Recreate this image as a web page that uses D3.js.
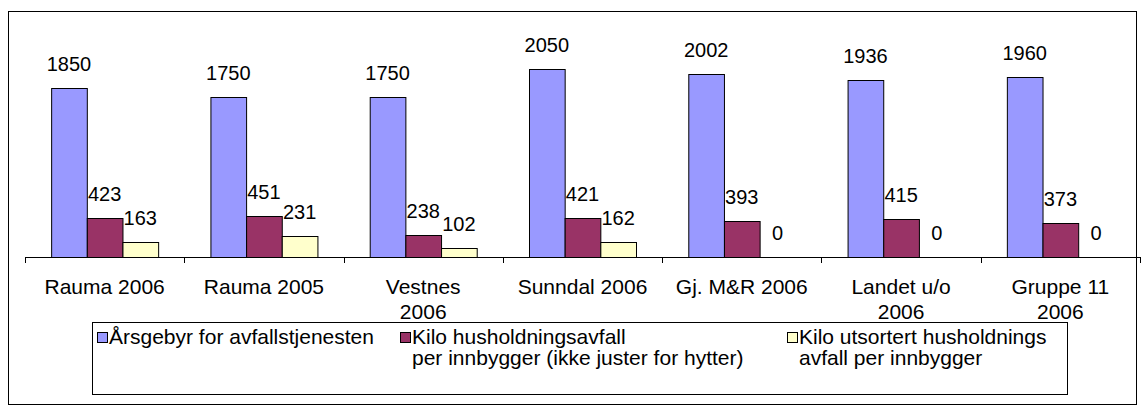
<!DOCTYPE html>
<html>
<head>
<meta charset="utf-8">
<script src="https://cdn.jsdelivr.net/npm/d3@7"></script>
<style>
  body { margin: 0; background: #fff; }
  text { font-family: "Liberation Sans", Arial, sans-serif; fill: #000; }
</style>
</head>
<body>
<script>
const categories = [
  ['Rauma 2006'],
  ['Rauma 2005'],
  ['Vestnes', '2006'],
  ['Sunndal 2006'],
  ['Gj. M&R 2006'],
  ['Landet u/o', '2006'],
  ['Gruppe 11', '2006']
];
const seriesNames = [
  ['Årsgebyr for avfallstjenesten'],
  ['Kilo husholdningsavfall', 'per innbygger (ikke juster for hytter)'],
  ['Kilo utsortert husholdnings', 'avfall per innbygger']
];
const gebyr = [1850, 1750, 1750, 2050, 2002, 1936, 1960];
const kiloAvfall = [423, 451, 238, 421, 393, 415, 373];
const kiloUtsortert = [163, 231, 102, 162, 0, 0, 0];
const colors = ['#9999ff', '#993366', '#ffffcc'];

const width = 1144, height = 412;
const series = [gebyr, kiloAvfall, kiloUtsortert];

const svg = d3.select('body').append('svg')
  .attr('width', width)
  .attr('height', height);

// outer frame
svg.append('rect')
  .attr('x', 8.5).attr('y', 11.5)
  .attr('width', 1128).attr('height', 393)
  .attr('fill', 'none').attr('stroke', '#000');

const catKeys = categories.map((c, i) => i);
const x = d3.scaleBand().domain(catKeys).range([25, 1140]);
const groupW = 107;
const xSub = d3.scaleBand().domain([0, 1, 2]).range([0, groupW]);
const y = d3.scaleLinear().domain([0, 2500]).range([257, 28]);

const groups = svg.append('g').selectAll('g')
  .data(catKeys)
  .join('g')
  .attr('transform', i => 'translate(' + (x(i) + (x.bandwidth() - groupW) / 2) + ',0)');

groups.selectAll('rect')
  .data(i => series.map((s, k) => ({ k: k, v: s[i] })))
  .join('rect')
  .filter(d => d.v > 0)
  .attr('x', d => xSub(d.k) + 0.5)
  .attr('y', d => Math.round(y(d.v)) + 0.5)
  .attr('width', xSub.bandwidth())
  .attr('height', d => Math.round(y(0)) - Math.round(y(d.v)))
  .attr('fill', d => colors[d.k])
  .attr('stroke', '#000');

// value labels
groups.selectAll('text.val')
  .data(i => series.map((s, k) => ({ k: k, v: s[i] })))
  .join('text')
  .attr('class', 'val')
  .attr('x', d => xSub(d.k) + xSub.bandwidth() / 2)
  .attr('y', d => y(d.v) - 17)
  .attr('text-anchor', 'middle')
  .style('font-size', '20px')
  .text(d => d.v);

// category axis
const axis = svg.append('g').attr('transform', 'translate(0,257)');
axis.append('line')
  .attr('x1', 25).attr('x2', 1140)
  .attr('y1', 0.5).attr('y2', 0.5)
  .attr('stroke', '#000');
axis.selectAll('line.tick')
  .data(catKeys.concat([categories.length]))
  .join('line')
  .attr('class', 'tick')
  .attr('x1', i => Math.round(i < categories.length ? x(i) : x.range()[1]) + 0.5)
  .attr('x2', i => Math.round(i < categories.length ? x(i) : x.range()[1]) + 0.5)
  .attr('y1', 0).attr('y2', 6)
  .attr('stroke', '#000');
axis.selectAll('text')
  .data(catKeys)
  .join('text')
  .attr('x', i => x(i) + x.bandwidth() / 2)
  .attr('y', 37)
  .attr('text-anchor', 'middle')
  .style('font-size', '21px')
  .selectAll('tspan')
  .data(i => categories[i])
  .join('tspan')
  .attr('x', function () { return d3.select(this.parentNode).attr('x'); })
  .attr('dy', (d, j) => j === 0 ? 0 : 25)
  .text(d => d);

// legend
const legend = svg.append('g');
legend.append('rect')
  .attr('x', 92.5).attr('y', 322.5)
  .attr('width', 975).attr('height', 72)
  .attr('fill', '#fff').attr('stroke', '#000');
const legendX = [97, 400, 787];
const items = legend.selectAll('g')
  .data(seriesNames)
  .join('g')
  .attr('transform', (d, i) => 'translate(' + legendX[i] + ',0)');
items.append('rect')
  .attr('x', 0.5).attr('y', 332.5)
  .attr('width', 10).attr('height', 10)
  .attr('fill', (d, i) => colors[i])
  .attr('stroke', '#000');
items.append('text')
  .attr('x', 12)
  .attr('y', 344)
  .style('font-size', '21px')
  .selectAll('tspan')
  .data(d => d)
  .join('tspan')
  .attr('x', 12)
  .attr('dy', (d, j) => j === 0 ? 0 : 21)
  .text(d => d);
</script>
</body>
</html>
